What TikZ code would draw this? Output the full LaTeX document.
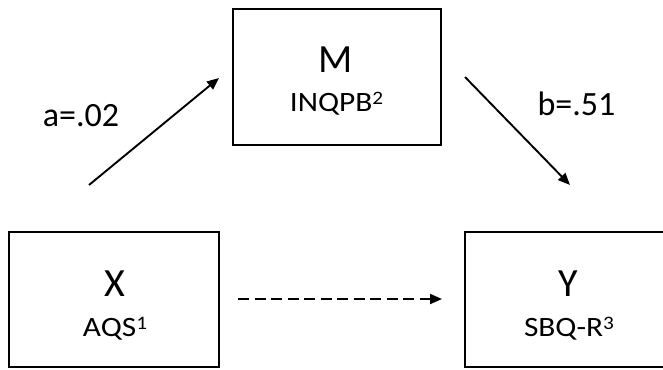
\documentclass[tikz,border=0pt]{standalone}
\usepackage{fontspec}
\setmainfont{Carlito}
\newfontfamily\widefont[FakeStretch=1.12]{Carlito}
\usetikzlibrary{arrows.meta}
\newcommand{\supnum}[1]{{\fontsize{19}{19}\selectfont\raisebox{6.5pt}{#1}}}
\begin{document}
\begin{tikzpicture}[x=1pt,y=-1pt,
  box/.style={draw,line width=1.8pt,inner sep=0pt},
  conn/.style={line width=1.9pt,-{Triangle[length=12pt,width=10pt]}},
  big/.style={anchor=base,inner sep=0pt,font=\fontsize{40}{40}\selectfont},
  small/.style={anchor=base,inner sep=0pt,font=\widefont\fontsize{28}{28}\selectfont},
  coef/.style={anchor=base,inner sep=0pt,font=\fontsize{34}{34}\selectfont}]
\clip (0,0) rectangle (663,369);
\node[box,minimum width=208pt,minimum height=136pt] (M) at (337,77) {};
\node[box,minimum width=210pt,minimum height=135pt] (X) at (114,299.5) {};
\node[box,minimum width=210pt,minimum height=135pt] (Y) at (570,299.5) {};
\node[big] (Mt) at (336,72) {M};
\node[small] (Ms) at (336.5,111) {INQPB\supnum{2}};
\node[big] (Xt) at (115,296) {X};
\node[small] (Xs) at (115,336) {AQS\supnum{1}};
\node[big] (Yt) at (568,296) {Y};
\node[small] (Ys) at (569,336) {SBQ-R\supnum{3}};
\node[coef] (a) at (81,126.5) {a=.02};
\node[coef] (b) at (576.5,115) {b=.51};
\coordinate (a0) at (89,185);
\coordinate (a1) at (219,78);
\coordinate (b0) at (465,77);
\coordinate (b1) at (570,185);
\coordinate (c0) at (238,299);
\coordinate (c1) at (442,299);
\draw[conn] (a0) -- (a1);
\draw[conn] (b0) -- (b1);
\draw[conn,dash pattern=on 11pt off 5.5pt] (c0) -- (c1);
\end{tikzpicture}
\end{document}
